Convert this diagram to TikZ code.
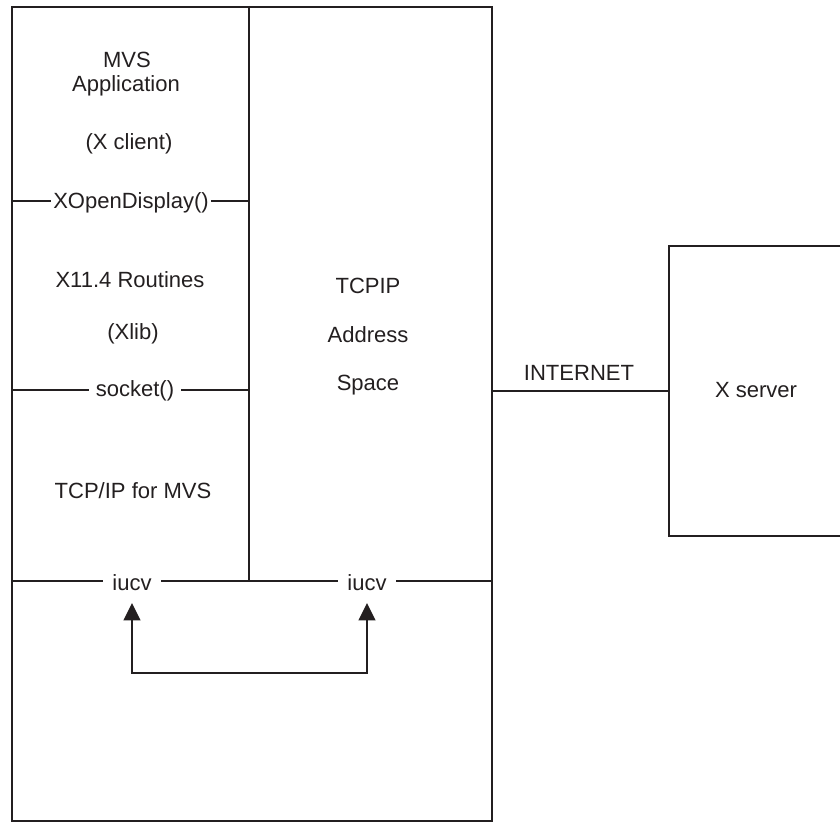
\documentclass[tikz,border=0pt]{standalone}
\usepackage{fontspec}
\setmainfont{Liberation Sans}
\usetikzlibrary{arrows.meta}
\definecolor{ink}{HTML}{231F20}

\begin{document}
\begin{tikzpicture}[x=0.03cm, y=-0.03cm, line width=2pt, draw=ink,
    lbl/.style={text=ink, font=\fontsize{18.8}{22}\selectfont, inner sep=0pt,
        text height=13.46pt, text depth=0pt},
    gaplbl/.style={lbl, fill=white, inner xsep=#1},
    gaplbl/.default=0.27cm,
    linkarrow/.style={arrows={Triangle[width=0.5cm, length=0.52cm]-Triangle[width=0.5cm, length=0.52cm]}}]
    \useasboundingbox (0,0) rectangle (840,822);
    \clip (0,0) rectangle (840,822);

    % MVS host
    \node[draw, anchor=north west, minimum width=14.4cm, minimum height=24.42cm] (host) at (11,6) {};
    \coordinate (divtop) at (249,6);
    \coordinate (divbot) at (249,581);
    \draw (divtop) -- (divbot);

    % layer boundaries
    \draw (11,201) -- (249,201);
    \draw (11,390) -- (249,390);
    \draw (11,581) -- (491,581);
    \node[gaplbl=0.06cm] (xopen) at (131,201) {XOpenDisplay()};
    \node[gaplbl=0.21cm] (socket) at (135,389) {socket()};
    \node[gaplbl] (iucvL) at (132,583) {iucv};
    \node[gaplbl] (iucvR) at (367,583) {iucv};

    % left column
    \node[lbl] (mvs) at (127,60) {MVS};
    \node[lbl] (app) at (126,84) {Application};
    \node[lbl] (client) at (129,142) {(X client)};
    \node[lbl] (x11) at (130,280) {X11.4 Routines};
    \node[lbl] (xlib) at (133,332) {(Xlib)};
    \node[lbl] (tcpmvs) at (133,491) {TCP/IP for MVS};

    % TCPIP address space
    \node[lbl] (tcpip) at (368,286) {TCPIP};
    \node[lbl] (addr) at (368,335) {Address};
    \node[lbl] (space) at (368,383) {Space};

    % iucv link
    \draw[linkarrow] ([yshift=-0.33cm]iucvL.south) -- ++(0,70) -| ([yshift=-0.33cm]iucvR.south);

    % X server and internet
    \node[draw, anchor=north west, minimum width=7cm, minimum height=8.7cm] (xbox) at (668,245) {};
    \node[lbl] (xserver) at (756,390) {X server};
    \draw (host.east |- xbox.west) -- (xbox.west);
    \node[lbl] (inet) at (579,373) {INTERNET};
\end{tikzpicture}
\end{document}
